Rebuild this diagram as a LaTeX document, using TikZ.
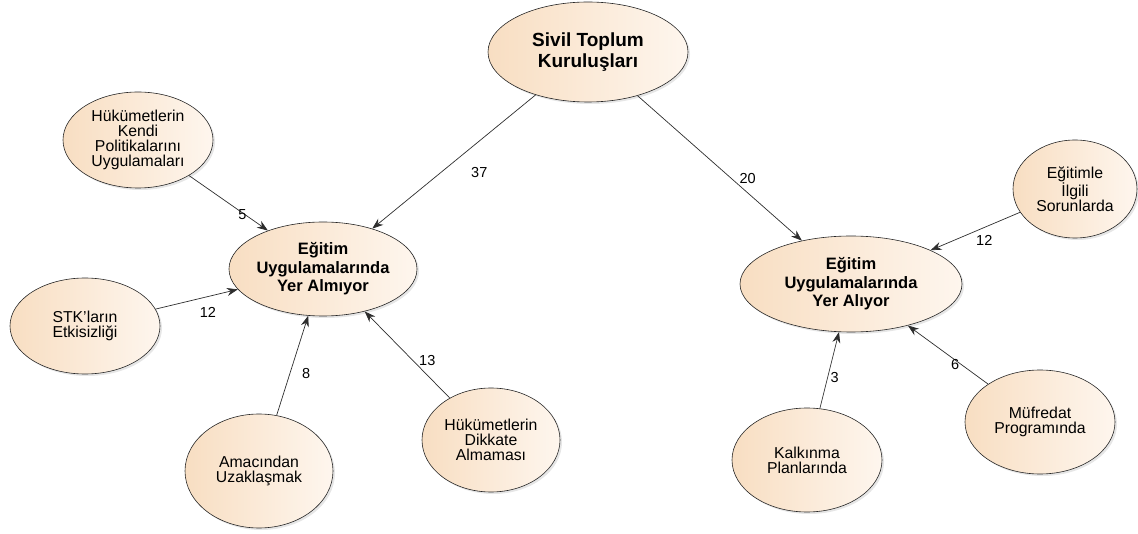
\documentclass[tikz,border=0pt]{standalone}
\usepackage{fontspec}
\setmainfont{Liberation Sans}
\usepackage{tikz}
\usetikzlibrary{positioning}
\usetikzlibrary{shapes.geometric,shadows}
\usetikzlibrary{arrows.meta}
\definecolor{peach}{RGB}{248,222,194}
\definecolor{cream}{RGB}{254,246,238}
\definecolor{edgegray}{RGB}{45,45,45}
\tikzset{konu/.style={ellipse, draw=black!85, line width=0.6pt,
  left color=peach, right color=cream,
  drop shadow={opacity=0.2, shadow xshift=2pt, shadow yshift=-2pt},
  inner sep=0pt, align=center, font=\fontsize{15.8}{15}\selectfont}}
\tikzset{ana/.style={konu, font=\fontsize{16.5}{18.5}\selectfont\bfseries}}
\tikzset{baglanti/.style={draw=edgegray, line width=0.7pt, -{Stealth[length=11pt,width=8pt]}}}
\tikzset{sayi/.style={font=\fontsize{14.5}{15}\selectfont, inner sep=1pt}}

\begin{document}
\begin{tikzpicture}[x=1pt,y=-1pt]
\useasboundingbox (0,0) rectangle (1138,534);
% ana dugumler
\node[ana, minimum width=200pt, minimum height=100pt, font=\fontsize{19}{20.5}\selectfont\bfseries] (stk) at (588,52) {Sivil Toplum\\Kuruluşları};
\node[ana, minimum width=188pt, minimum height=94pt] (almiyor) at (323,269) {Eğitim\\Uygulamalarında\\Yer Almıyor};
\node[ana, minimum width=222pt, minimum height=96pt] (aliyor) at (851,284) {Eğitim\\Uygulamalarında\\Yer Alıyor};
% sol taraf
\node[konu, minimum width=150pt, minimum height=96pt] (kendi) at (138,140) {Hükümetlerin\\Kendi\\Politikalarını\\Uygulamaları};
\node[konu, minimum width=150pt, minimum height=96pt] (etkisiz) at (85,326) {STK'ların\\Etkisizliği};
\node[konu, minimum width=148pt, minimum height=114pt] (amac) at (259,471) {Amacından\\Uzaklaşmak};
\node[konu, minimum width=138pt, minimum height=104pt] (dikkat) at (491,440) {Hükümetlerin\\Dikkate\\Almaması};
% sag taraf
\node[konu, minimum width=124pt, minimum height=98pt] (sorun) at (1075,189) {Eğitimle\\İlgili\\Sorunlarda};
\node[konu, minimum width=150pt, minimum height=104pt] (mufredat) at (1040,422) {Müfredat\\Programında};
\node[konu, minimum width=150pt, minimum height=104pt] (kalkinma) at (807,460) {Kalkınma\\Planlarında};

\draw[baglanti] (stk) -- (almiyor) node[sayi, pos=.58, right=29pt] (s37) {37};
\draw[baglanti] (stk) -- (aliyor) node[sayi, pos=.57, right=7pt] (s20) {20};
\draw[baglanti] (kendi) -- (almiyor) node[sayi, pos=.6, below=0pt, xshift=6pt] (s5) {5};
\draw[baglanti] (etkisiz) -- (almiyor) node[sayi, pos=.6, below=9pt, xshift=3pt] (s12a) {12};
\draw[baglanti] (amac) -- (almiyor) node[sayi, pos=.42, right=11pt] (s8) {8};
\draw[baglanti] (dikkat) -- (almiyor) node[sayi, pos=.37, xshift=9pt, yshift=5pt] (s13) {13};
\draw[baglanti] (sorun) -- (aliyor) node[sayi, pos=.4, below=7pt] (s12b) {12};
\draw[baglanti] (kalkinma) -- (aliyor) node[sayi, pos=.41, right=1.5pt] (s3) {3};
\draw[baglanti] (mufredat) -- (aliyor) node[sayi, pos=.41, yshift=-4pt] (s6) {6};
%\draw[baglanti] (etkisiz) -- (amac);
\end{tikzpicture}
\end{document}
